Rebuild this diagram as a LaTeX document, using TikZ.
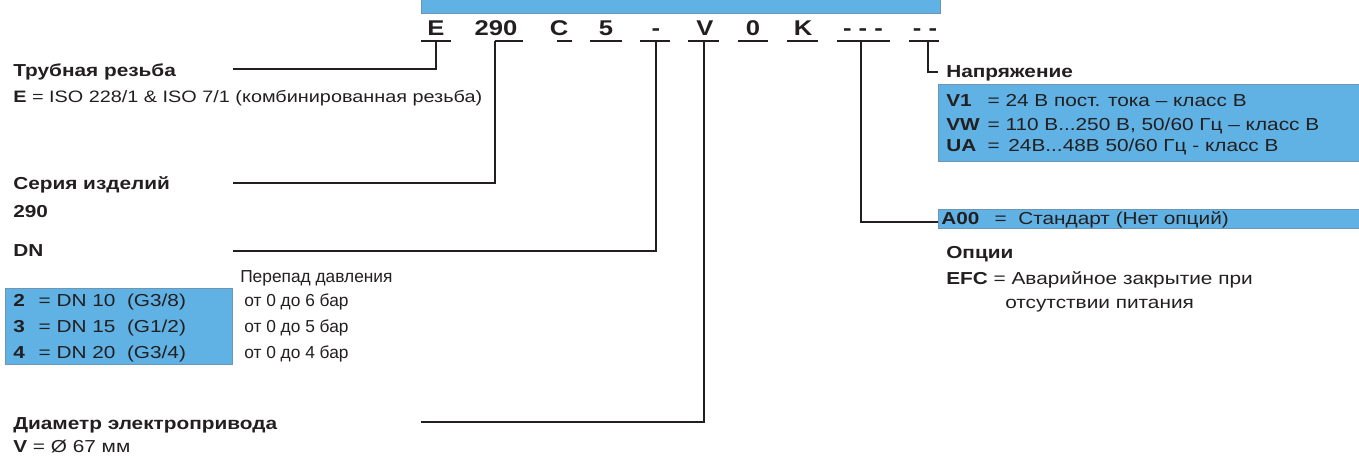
\documentclass[tikz,border=0pt]{standalone}
\usepackage{fontspec}
\setmainfont{Liberation Sans}[FakeStretch=1.2]
\newfontfamily\narrowfont{Liberation Sans}
\usetikzlibrary{positioning}
\definecolor{keyblue}{RGB}{96,178,228}
\definecolor{keyedge}{RGB}{110,150,180}
\definecolor{ink}{RGB}{35,31,32}

\begin{document}
\begin{tikzpicture}[x=0.75pt, y=-0.75pt,
	txt/.style={anchor=base west, inner sep=0pt, text=ink, font=\fontsize{13}{15}\selectfont},
	head/.style={txt, font=\fontsize{13}{15}\selectfont\bfseries},
	narrow/.style={txt, font=\fontsize{13}{15}\selectfont\narrowfont},
	code/.style={anchor=base, inner sep=0pt, text=ink, font=\fontsize{16}{18}\selectfont\bfseries},
	codebar/.style={ink, line width=1.9pt},
	lead/.style={ink, line width=1.7pt},
	keybox/.style={fill=keyblue, draw=keyedge, line width=0.5pt}]

	\useasboundingbox (0,0) rectangle (1359,455);

	% --- Blue key boxes ---
	\fill[keybox] (421,-2) rectangle (940,13);
	\fill[keybox] (5,288) rectangle (232,364);
	\fill[keybox] (938,84) rectangle (1362,161);
	\fill[keybox] (938,209) rectangle (1362,228);

	% --- Type code ---
	\foreach \nm/\x/\t in {E/436/E, S/496/290, C/559/C, F/606/5, D/656/-,
		V/705/V, Z/753/0, K/803/K, O/863/{- - -}, U/925/{- -}}
		\node[code] (c\nm) at (\x,35) {\t};

	% bars under the code
	\foreach \a/\b in {421/451, 495/523, 557/572, 590/622, 640/670,
		688/719, 738/768, 787/818, 837/890, 909/939}
		\draw[codebar] (\a,41) -- (\b,41);

	% --- Left labels ---
	\node[head] (thread) at (13,76) {Трубная резьба};
	\node[txt, font=\fontsize{12.4}{15}\selectfont] (threadval) at (13,102) {\textbf{E} = ISO 228/1 \& ISO 7/1 (комбинированная резьба)};

	\node[head] (series) at (13,189) {Серия изделий};
	\node[head] (seriesval) at (13,217) {290};

	\node[head] (dn) at (13,256) {DN};
	\node[narrow] (dp) at (240,282) {Перепад давления};
	\foreach \i/\k/\d/\g/\p in {0/2/10/G3\slash 8/6, 1/3/15/G1\slash 2/5, 2/4/20/G3\slash 4/4} {
		\node[txt] (dn\k) at (13,306+26*\i) {\makebox[19pt][l]{\textbf{\k}}= DN \d\ \ (\g)};
		\node[narrow] (dp\k) at (244,306+26*\i) {от 0 до \p\ бар};
	}

	\node[head] (motor) at (13,429) {Диаметр электропривода};
	\node[txt] (motorval) at (13,452) {\textbf{V} = Ø 67 мм};

	% --- Right labels ---
	\node[head] (volt) at (946,77) {Напряжение};
	\node[txt] (v1) at (946,106) {\makebox[31pt][l]{\textbf{V1}}= 24 В пост. тока – класс В};
	\node[txt] (vw) at (946,130) {\makebox[31pt][l]{\textbf{VW}}= 110 В...250 В, 50/60 Гц – класс В};
	\node[txt] (ua) at (946,151) {\makebox[31pt][l]{\textbf{UA}}= \,24В...48В 50/60 Гц - класс В};

	\node[txt] (std) at (941,224) {\makebox[40pt][l]{\textbf{A00}}= \ Стандарт (Нет опций)};
	\node[head] (opt) at (946,258) {Опции};
	\node[txt] (efc) at (946,284) {\textbf{EFC} = Аварийное закрытие при};
	\node[txt] (efc2) at (1005,308) {отсутствии питания};

	% --- Leader lines ---
	\coordinate (tE) at (233,69);
	\coordinate (tS) at (233,183);
	\coordinate (tD) at (233,251);
	\coordinate (tV) at (421,422);
	\coordinate (tO) at (938,222);
	\coordinate (tU) at (938,72);

	\draw[lead] (cE |- 0,41) |- (tE);
	\draw[lead] (495,41) |- (tS);
	\draw[lead] (cD |- 0,41) |- (tD);
	\draw[lead] (704,41) |- (tV);
	\draw[lead] (861,41) |- (tO);
	\draw[lead, line width=1.3pt] (928,41) |- (tU);

\end{tikzpicture}
\end{document}
